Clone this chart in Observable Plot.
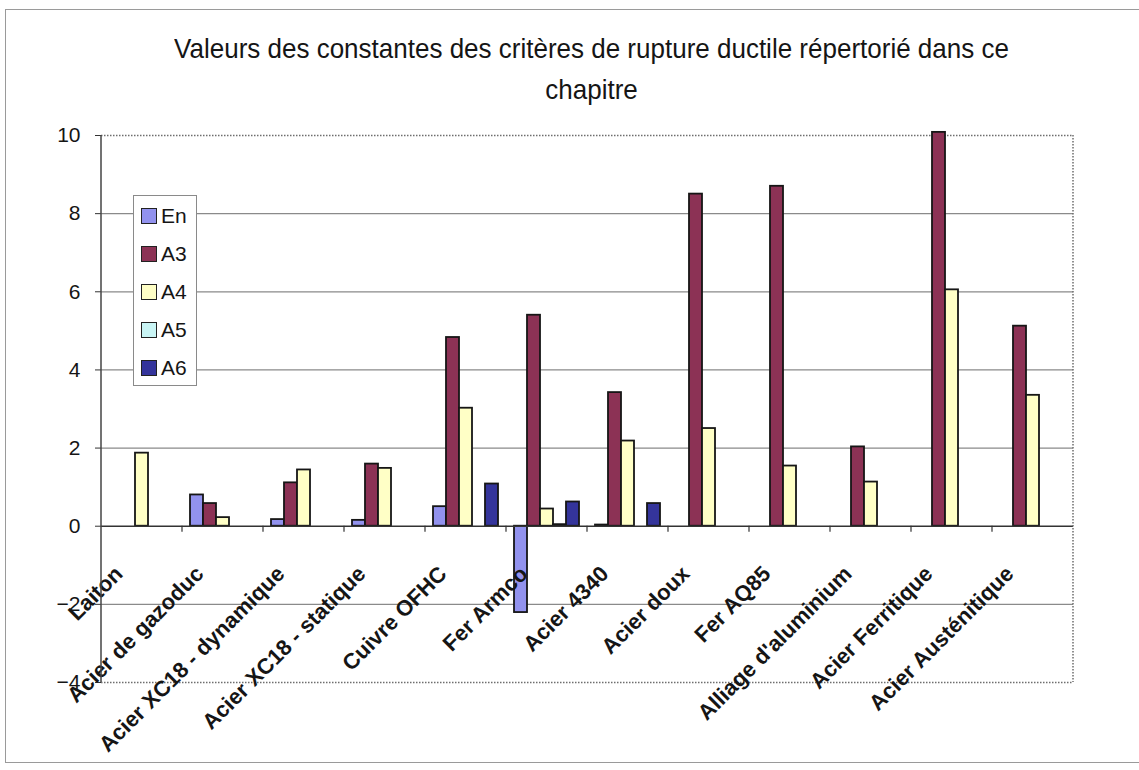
<!DOCTYPE html>
<html>
<head>
<meta charset="utf-8">
<script src="https://cdn.jsdelivr.net/npm/d3@7"></script>
<script src="https://cdn.jsdelivr.net/npm/@observablehq/plot@0.6"></script>
<style>
  body { margin: 0; background: #fff; font-family: "Liberation Sans", Arial, sans-serif; }
  #wrap { position: relative; width: 1139px; height: 770px; overflow: hidden; background: #fff; }
  #border { position: absolute; left: 5px; top: 9px; width: 1160px; height: 754px; border: 1.5px solid #9a9a9a; box-sizing: border-box; }
  #title { position: absolute; left: 22px; top: 28px; width: 1139px; text-align: center; font-size: 26px; line-height: 38px; color: #151515; transform: scaleY(1.08); transform-origin: top center; }
  #chart { position: absolute; left: 0; top: 110px; }
  #legend { position: absolute; left: 133px; top: 195px; width: 64px; height: 191px; border: 1px solid #8a8a8a; background: #fff; box-sizing: border-box; }
  .item { position: absolute; left: 7px; height: 24px; display: flex; align-items: center; font-size: 21px; color: #151515; }
  .sw { width: 14px; height: 14px; border: 1.5px solid #222; margin-right: 4px; }
</style>
</head>
<body>
<div id="wrap">
  <div id="border"></div>
  <div id="title">Valeurs des constantes des critères de rupture ductile répertorié dans ce<br>chapitre</div>
  <div id="chart"></div>
  <div id="legend"></div>
</div>
<script>
const categories = [
  "Laiton", "Acier de gazoduc", "Acier XC18 - dynamique", "Acier XC18 - statique",
  "Cuivre OFHC", "Fer Armco", "Acier 4340", "Acier doux", "Fer AQ85",
  "Alliage d'aluminium", "Acier Ferritique", "Acier Austénitique"
];
const series = ["En", "A3", "A4", "A5", "A6"];
const En = [null, 0.80, 0.17, 0.15, 0.50, -2.21, 0.03, null, null, null, null, null];
const A3 = [null, 0.58, 1.11, 1.59, 4.83, 5.40, 3.42, 8.50, 8.70, 2.03, 10.08, 5.12];
const A4 = [1.87, 0.22, 1.44, 1.48, 3.02, 0.44, 2.18, 2.50, 1.54, 1.13, 6.05, 3.35];
const A5 = [null, null, null, null, null, 0.04, null, null, null, null, null, null];
const A6 = [null, null, null, null, 1.08, 0.62, 0.58, null, null, null, null, null];
const yTicks = [-4, -2, 0, 2, 4, 6, 8, 10];
const colors = ["#9292ee", "#8c3255", "#ffffc6", "#c9f5f5", "#34349b"];

const valuesBySeries = {En, A3, A4, A5, A6};
const rows = [];
categories.forEach((c, i) => {
  series.forEach(s => {
    const v = valuesBySeries[s][i];
    if (v !== null) rows.push({category: c, series: s, value: v});
  });
});

const hasAxisMark = typeof Plot.axisY === "function";
const yAxisMarks = hasAxisMark
  ? [Plot.axisY(yTicks, {facetAnchor: "left", tickSize: 6, tickPadding: 15, fontSize: 21, stroke: "#333", fill: "#151515"})]
  : [];

const plot = Plot.plot({
  width: 1139,
  height: 650,
  marginTop: 25,
  marginBottom: 78,
  marginLeft: 97,
  marginRight: 63,
  style: {fontFamily: "'Liberation Sans', Arial, sans-serif", fontSize: "21px", color: "#151515", background: "transparent", overflow: "visible"},
  fx: {domain: categories, padding: 0, axis: null},
  x: {domain: series, paddingInner: 0, paddingOuter: 0.52, axis: null},
  y: hasAxisMark
    ? {domain: [-4, 10], label: null}
    : {domain: [-4, 10], ticks: yTicks, tickSize: 6, tickPadding: 14, line: true, label: null},
  color: {domain: series, range: colors},
  marks: [
    Plot.ruleY(yTicks.filter(t => t !== 0 && t !== 10 && t !== -4), {stroke: "#8a8a8a", strokeWidth: 1.2}),
    Plot.ruleY([10, -4], {stroke: "#6e6e6e", strokeWidth: 1.5, strokeDasharray: "1.5,1.5"}),
    Plot.barY(rows, {fx: "category", x: "series", y: "value", fill: "series", stroke: "#161616", strokeWidth: 1.8}),
    Plot.ruleY([0], {stroke: "#333", strokeWidth: 1.5}),
    ...yAxisMarks,
    Plot.text(categories, {fx: d => d, text: d => d, y: () => 0, rotate: -45, textAnchor: "end",
      dx: -23, dy: 44, fontWeight: "bold", fontSize: 22, fill: "#151515"})
  ]
});

// category boundary ticks, left axis line and right border, positioned with Plot's own scales
const fx = plot.scale("fx");
const y = plot.scale("y");
const svg = d3.select(plot);
const g = svg.append("g");
const bounds = categories.map(c => fx.apply(c)).concat([fx.apply(categories[categories.length - 1]) + fx.bandwidth]);
bounds.slice(1, -1).forEach(b => {
  g.append("line").attr("x1", b).attr("x2", b).attr("y1", y.apply(0)).attr("y2", y.apply(0) + 6)
    .attr("stroke", "#333").attr("stroke-width", 1.2);
});
if (hasAxisMark) {
  g.append("line").attr("x1", bounds[0]).attr("x2", bounds[0]).attr("y1", y.apply(10)).attr("y2", y.apply(-4))
    .attr("stroke", "#444").attr("stroke-width", 1.5);
}
const right = bounds[bounds.length - 1];
g.append("line").attr("x1", right).attr("x2", right).attr("y1", y.apply(10)).attr("y2", y.apply(-4))
  .attr("stroke", "#6e6e6e").attr("stroke-width", 1.5).attr("stroke-dasharray", "1.5,1.5");

document.getElementById("chart").appendChild(plot);

// legend
const legend = document.getElementById("legend");
series.forEach((s, i) => {
  const item = document.createElement("div");
  item.className = "item";
  item.style.top = (8 + i * 38) + "px";
  const sw = document.createElement("div");
  sw.className = "sw";
  sw.style.background = colors[i];
  const t = document.createElement("span");
  t.textContent = s;
  item.appendChild(sw);
  item.appendChild(t);
  legend.appendChild(item);
});
</script>
</body>
</html>
